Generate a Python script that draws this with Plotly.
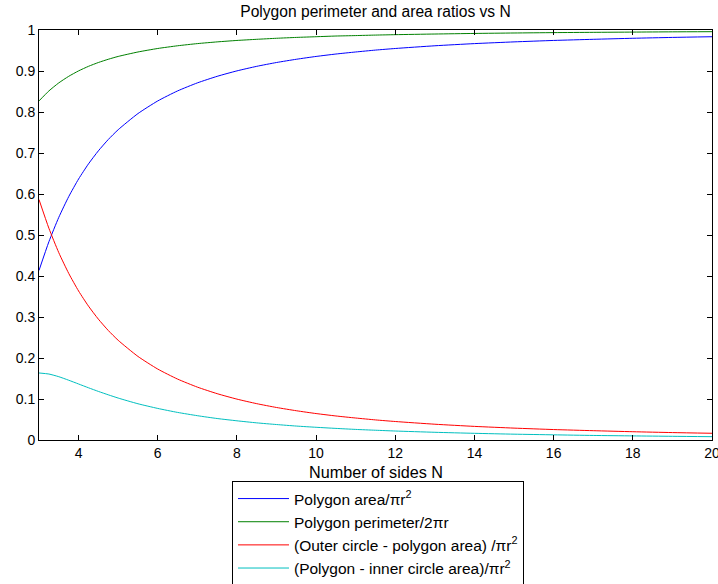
import plotly.graph_objects as go

N = [3, 3.25, 3.5, 3.75, 4, 4.25, 4.5, 4.75, 5, 5.5, 6, 6.5, 7, 7.5, 8, 8.5, 9, 9.5,
     10, 10.5, 11, 11.5, 12, 13, 14, 15, 16, 17, 18, 19, 20]

poly_area = [0.4135, 0.4836, 0.5431, 0.5935, 0.6366, 0.6735, 0.7053, 0.7329, 0.7568,
             0.7962, 0.8270, 0.8514, 0.8710, 0.8870, 0.9003, 0.9114, 0.9207, 0.9286,
             0.9355, 0.9414, 0.9464, 0.9510, 0.9549, 0.9615, 0.9668, 0.9710, 0.9745,
             0.9773, 0.9798, 0.9819, 0.9836]

poly_perim = [0.8270, 0.8514, 0.8710, 0.8870, 0.9003, 0.9114, 0.9207, 0.9286, 0.9355,
              0.9464, 0.9549, 0.9615, 0.9668, 0.9710, 0.9745, 0.9773, 0.9798, 0.9819,
              0.9836, 0.9853, 0.9864, 0.9876, 0.9886, 0.9902, 0.9916, 0.9927, 0.9936,
              0.9943, 0.9949, 0.9955, 0.9959]

outer_minus_poly = [0.5865, 0.5164, 0.4569, 0.4065, 0.3634, 0.3265, 0.2947, 0.2671, 0.2432,
                    0.2038, 0.1730, 0.1486, 0.1290, 0.1130, 0.0997, 0.0886, 0.0793, 0.0714,
                    0.0645, 0.0586, 0.0536, 0.0490, 0.0451, 0.0385, 0.0332, 0.0290, 0.0255,
                    0.0227, 0.0202, 0.0181, 0.0164]

poly_minus_inner = [0.1635, 0.1609, 0.1544, 0.1458, 0.1366, 0.1274, 0.1185, 0.1102, 0.1023,
                    0.0884, 0.0770, 0.0673, 0.0593, 0.0524, 0.0468, 0.0418, 0.0377, 0.0340,
                    0.0310, 0.0283, 0.0258, 0.0238, 0.0219, 0.0188, 0.0163, 0.0142, 0.0126,
                    0.0111, 0.0100, 0.0090, 0.0081]

x_ticks = [4, 6, 8, 10, 12, 14, 16, 18, 20]
y_ticks = [0, 0.1, 0.2, 0.3, 0.4, 0.5, 0.6, 0.7, 0.8, 0.9, 1]
y_tick_labels = ["0", "0.1", "0.2", "0.3", "0.4", "0.5", "0.6", "0.7", "0.8", "0.9", "1"]

series = [
    ("Polygon area/πr<sup>2</sup>", poly_area, "rgb(0,0,255)"),
    ("Polygon perimeter/2πr", poly_perim, "rgb(0,128,0)"),
    ("(Outer circle - polygon area) /πr<sup>2</sup>", outer_minus_poly, "rgb(255,0,0)"),
    ("(Polygon - inner circle area)/πr<sup>2</sup>", poly_minus_inner, "rgb(0,191,191)"),
]

FONT = "Liberation Sans, Arial, sans-serif"

fig = go.Figure()
for name, vals, col in series:
    fig.add_trace(go.Scatter(x=N, y=vals, mode="lines", name=name,
                             line=dict(color=col, width=1, shape="spline", smoothing=0.6)))

axis_common = dict(showgrid=False, zeroline=False, showline=True, linecolor="black",
                   linewidth=1, mirror="ticks", ticks="inside", ticklen=5,
                   tickcolor="black", ticklabeloverflow="allow",
                   tickfont=dict(family=FONT, size=14, color="black"))

fig.update_layout(
    width=718, height=584,
    margin=dict(l=39, r=6, t=30, b=144, autoexpand=False),
    paper_bgcolor="white", plot_bgcolor="white",
    font=dict(family=FONT, size=14, color="black"),
    title=dict(text="Polygon perimeter and area ratios vs N", x=0.5, xref="paper",
               y=(584 - 12) / 584, yref="container", yanchor="middle",
               font=dict(family=FONT, size=15.6, color="black")),
    xaxis=dict(range=[3, 20], tickvals=x_ticks, **axis_common),
    yaxis=dict(range=[0, 1], tickvals=y_ticks, ticktext=y_tick_labels, **axis_common),
    showlegend=True,
    legend=dict(x=232 / 718, y=(584 - 481) / 584, xref="container", yref="container",
                xanchor="left", yanchor="top", itemwidth=51,
                bordercolor="black", borderwidth=1, bgcolor="white",
                font=dict(family=FONT, size=15.5, color="black")),
    annotations=[dict(text="Number of sides N", x=0.5, y=(440 - 472) / 410,
                      xref="paper", yref="paper", showarrow=False, yanchor="middle",
                      font=dict(family=FONT, size=16.2, color="black"))],
)

fig.write_html("out.html", config={"displayModeBar": False},
               post_script="document.body.style.margin='0';document.body.style.overflow='hidden';")
